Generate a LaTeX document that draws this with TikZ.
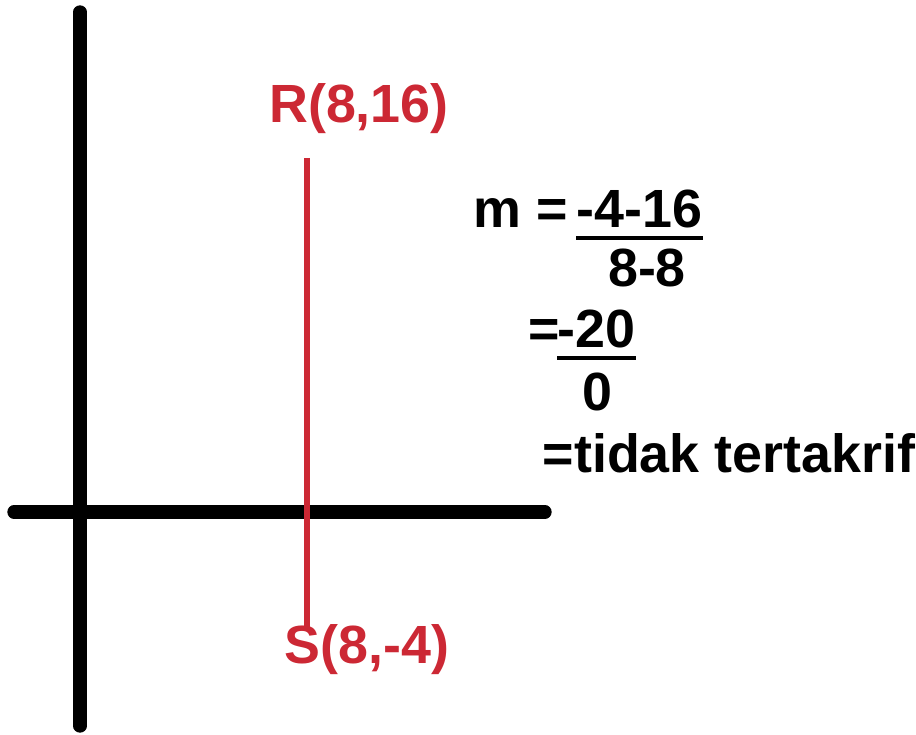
\documentclass[tikz,border=0pt]{standalone}
\usepackage{fontspec}
\setmainfont{Liberation Sans}
\definecolor{penred}{RGB}{204,40,52}

\begin{document}
\begin{tikzpicture}[x=0.01cm, y=-0.01cm,
    every node/.style={font=\fontsize{15.3}{18}\selectfont\bfseries, inner sep=0pt},
    axis/.style={line width=3.8pt, line cap=round},
    redline/.style={line width=1.8pt, draw=penred},
    point/.style={text=penred, anchor=base},
    eqn/.style={anchor=base west},
    bar/.style={line width=0.9pt}
  ]
  \useasboundingbox (0,0) rectangle (916,734);
  \draw[axis] (80,12) -- (80,726);
  \draw[axis] (14,512) -- (545,512);
  \node[point] (R) at (359,123) {R(8,16)};
  \node[point] (S) at (367,663) {S(8,-4)};
  \coordinate (rtop) at (307,158);
  \coordinate (sbot) at (307,628);
  \draw[redline] (rtop) -- (sbot);
  \node[eqn] (m) at (473,228) {m =};
  \node[eqn] (num1) at (576,228) {-4-16};
  \node[anchor=base] (den1) at (647,287) {8-8};
  \node[eqn] (eq2) at (528,348) {=};
  \node[eqn] (num2) at (557,348) {-20};
  \node[anchor=base] (den2) at (597,410) {0};
  \node[eqn] (res) at (542,472) {=tidak tertakrif};
  \draw[bar] ([yshift=-1mm]num1.base west) -- ([yshift=-1mm]num1.base east);
  \draw[bar] ([yshift=-1mm]num2.base west) -- ([yshift=-1mm]num2.base east);
\end{tikzpicture}
\end{document}
